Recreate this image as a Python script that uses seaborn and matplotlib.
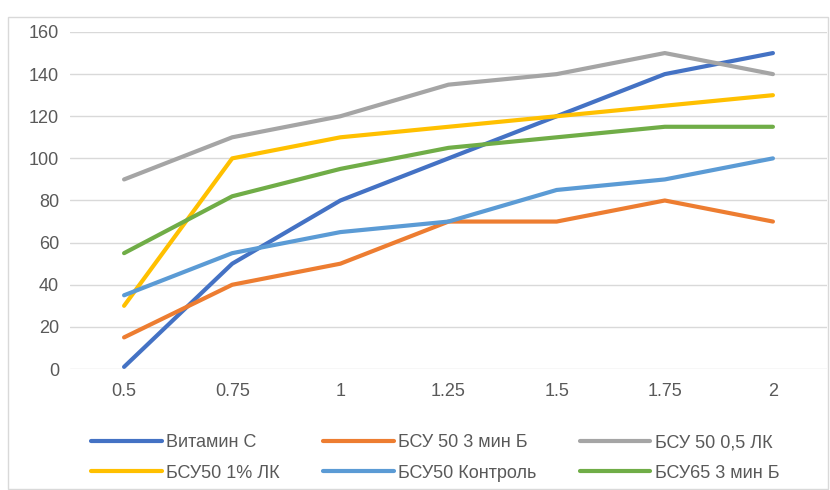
import matplotlib.pyplot as plt
import seaborn as sns
import pandas as pd
from matplotlib.patches import Rectangle

x_labels = ['0.5', '0.75', '1', '1.25', '1.5', '1.75', '2']
series_names = ['Витамин С', 'БСУ 50 3 мин Б', 'БСУ 50 0,5 ЛК',
                'БСУ50 1% ЛК', 'БСУ50 Контроль', 'БСУ65 3 мин Б']
vitamin_c = [1, 50, 80, 100, 120, 140, 150]
bsu50_3min = [15, 40, 50, 70, 70, 80, 70]
bsu50_05lk = [90, 110, 120, 135, 140, 150, 140]
bsu50_1lk = [30, 100, 110, 115, 120, 125, 130]
bsu50_control = [35, 55, 65, 70, 85, 90, 100]
bsu65_3min = [55, 82, 95, 105, 110, 115, 115]
colors = ['#4472C4', '#ED7D31', '#A5A5A5', '#FFC000', '#5B9BD5', '#70AD47']

values = [vitamin_c, bsu50_3min, bsu50_05lk, bsu50_1lk, bsu50_control, bsu65_3min]
rows = []
for name, vals in zip(series_names, values):
    for i, v in enumerate(vals):
        rows.append({'series': name, 'pos': i, 'value': v})
df = pd.DataFrame(rows)

sns.set_style('white')
plt.rcParams['font.family'] = ['Liberation Sans Narrow', 'Liberation Sans', 'DejaVu Sans']

fig = plt.figure(figsize=(8.3, 4.9), dpi=100)
ax = fig.add_axes([70 / 830, 1 - 369 / 490, 757 / 830, 337 / 490])
fig.patches.append(Rectangle((8 / 830, 0.002), 1 - 8 / 830 - 0.002, 1 - 17 / 490 - 0.002,
                             transform=fig.transFigure, fill=False,
                             edgecolor='#d9d9d9', linewidth=1))

sns.lineplot(data=df, x='pos', y='value', hue='series', hue_order=series_names,
             palette=colors, linewidth=3, ax=ax, solid_capstyle='round')

ax.set_xlim(-0.5, 6.5)
ax.set_ylim(0, 160)
ax.set_yticks(range(0, 161, 20))
ax.set_xticks(range(len(x_labels)))
ax.set_xticklabels(x_labels)
ax.set_xlabel('')
ax.set_ylabel('')
ax.yaxis.grid(True, color='#d9d9d9', linewidth=1)
ax.set_axisbelow(True)
for s in ax.spines.values():
    s.set_visible(False)
ax.tick_params(axis='both', length=0, labelsize=13, labelcolor='#595959')
ax.tick_params(axis='x', pad=10)
ax.tick_params(axis='y', pad=8)

handles, labels = ax.get_legend_handles_labels()
for h in handles:
    h.set_linewidth(3)
order = [0, 3, 1, 4, 2, 5]
ax.legend([handles[i] for i in order], [labels[i] for i in order],
          ncol=3, loc='center left', bbox_to_anchor=(5 / 757, -0.264),
          frameon=False, fontsize=13, handlelength=3.9, handletextpad=0.25,
          columnspacing=2.4, labelspacing=0.75, labelcolor='#595959')

fig.savefig('out.png', dpi=100)
